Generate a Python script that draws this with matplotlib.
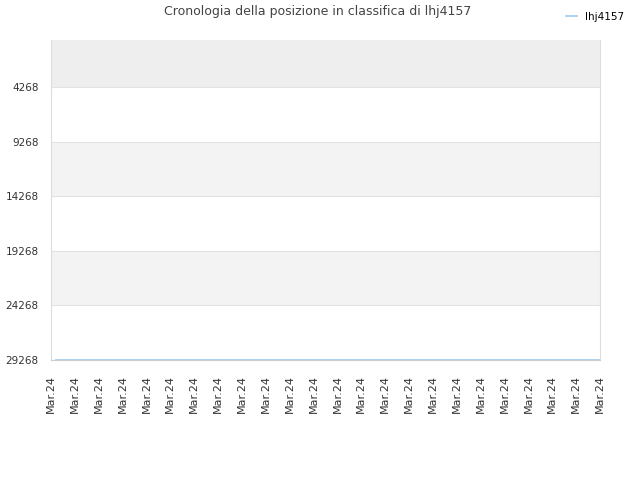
#!/usr/bin/env python3

import matplotlib
matplotlib.use("Agg")
import matplotlib.pyplot as plt

# data
player = "lhj4157"
dates = ["Mar.24"] * 24
positions = [29268] * 24
ytick_values = [4268, 9268, 14268, 19268, 24268, 29268]


def main():
    plt.rcParams["font.family"] = ["DejaVu Sans"]
    fig = plt.figure(figsize=(6.4, 4.8), dpi=100)
    ax = fig.add_axes([51 / 640, 1 - 360 / 480, 549 / 640, 320 / 480])

    xs = list(range(len(dates)))
    ax.set_xlim(0, len(dates) - 1)
    ax.set_ylim(29268, -30)

    # alternating background bands
    bounds = [-30] + ytick_values
    for i in range(len(bounds) - 1):
        lo, hi = bounds[i], bounds[i + 1]
        if i == 0:
            col = "#eeeeee"
        elif i % 2 == 0:
            col = "#f3f3f3"
        else:
            col = "#ffffff"
        ax.axhspan(lo, hi, color=col, zorder=0, lw=0)
    for v in ytick_values:
        ax.axhline(v, color="#e2e2e2", lw=0.8, zorder=1)

    line, = ax.plot([x + 0.2 for x in xs[:1]] + xs[1:], positions,
                    color="#9ccbf0", lw=1.2, zorder=3, label=player)

    ax.set_yticks(ytick_values)
    ax.set_yticklabels([str(v) for v in ytick_values], fontsize=7.5, color="#333333")
    ax.set_xticks(xs)
    ax.set_xticklabels(dates, rotation=90, fontsize=8, color="#333333")
    ax.tick_params(axis="y", length=0, pad=9)
    ax.tick_params(axis="x", length=0, pad=11)

    for side in ["left", "right", "top"]:
        ax.spines[side].set_color("#dddddd")
    ax.spines["top"].set_visible(False)
    ax.spines["bottom"].set_color("#cccccc")

    fig.text(0.497, 0.975, "Cronologia della posizione in classifica di " + player,
             ha="center", va="center", fontsize=9, color="#444444")
    fig.legend(handles=[line], loc="upper right", bbox_to_anchor=(0.99, 0.995),
               frameon=False, fontsize=7.5, handlelength=1.0, handletextpad=0.8)

    fig.savefig("out.png", dpi=100)
    return 0


if __name__ == "__main__":
    exit(main())
